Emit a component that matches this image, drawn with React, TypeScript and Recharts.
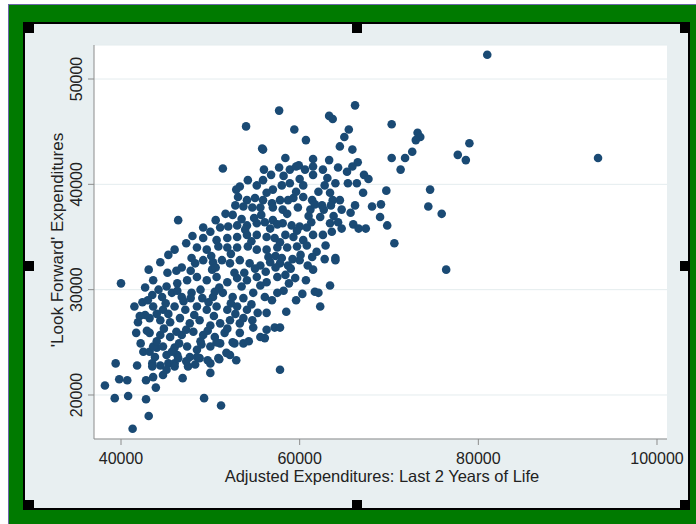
import { CartesianGrid, Label, Scatter, ScatterChart, XAxis, YAxis } from 'recharts'

// x = adjusted expenditures over the last 2 years of life, y = 'look forward' expenditures
const X_TICKS = [40000, 60000, 80000, 100000]
const Y_TICKS = [20000, 30000, 40000, 50000]

const lowerTail: [number, number][] = [
  [38200, 20900], [39400, 23000], [39800, 21500], [40700, 21400], [39300, 19700],
  [40800, 19900], [41300, 16800], [41800, 22800], [42800, 19600], [43100, 18000],
  [43900, 20700], [42800, 21400], [43600, 21700], [44700, 21900], [44400, 22800],
  [43500, 23000], [42200, 24900], [42500, 24100], [43200, 24100], [44000, 24500],
  [44700, 24600], [45300, 23000], [46000, 23000], [46300, 23800], [46900, 21600],
  [48500, 23600], [49300, 19700], [50000, 22100], [50000, 23000], [51000, 23400],
  [51200, 19000], [52900, 23300], [53700, 24900], [52700, 24900], [56100, 25400],
  [57800, 22400], [40000, 30600], [41500, 28400], [43100, 31900], [43500, 22700],
  [45100, 22400], [46000, 22700], [47500, 22700], [43800, 23600], [45100, 23800],
  [46400, 23500], [47700, 23600], [48800, 23500], [49700, 23300], [50900, 23500],
]

const core: [number, number][] = [
  [55900, 43300], [58400, 42500], [59900, 41800], [61500, 42400], [61500, 41700],
  [61500, 40900], [51400, 41500], [56000, 41400], [55200, 39900], [57000, 39500],
  [58000, 39900], [58900, 40100], [60400, 39900], [62100, 39300], [63400, 39200],
  [64500, 38500], [64700, 37600], [53100, 38800], [54100, 38500], [55000, 38700],
  [55900, 38500], [56900, 38200], [57800, 38500], [58700, 38500], [59300, 38700],
  [60400, 38800], [61400, 38500], [62500, 38000], [63700, 38500], [52800, 38000],
  [53700, 37900], [54700, 37800], [55600, 37800], [57000, 37800], [58100, 37600],
  [59800, 37800], [61200, 37600], [52500, 37100], [46400, 36600], [49200, 35900],
  [50000, 35500], [51100, 35900], [52000, 36000], [53000, 36100], [54100, 36100],
  [55200, 36300], [56100, 36400], [57000, 36600], [58100, 36300], [59100, 36100],
  [60000, 36000], [60800, 35900], [62300, 36900], [63400, 36300], [63600, 35500],
  [62600, 35200], [49200, 34900], [50700, 34700], [51900, 34900], [53000, 35000],
  [54100, 35200], [55200, 35200], [56300, 35000], [57200, 34900], [58400, 35200],
  [59300, 35000], [60400, 34700], [61500, 35200], [46000, 33800], [48500, 34000],
  [49600, 33800], [50900, 34100], [51900, 34000], [53000, 34000], [54200, 34100],
  [55200, 33800], [56300, 33800], [57500, 34000], [58600, 34000], [59700, 34100],
  [60800, 34200], [61900, 33600], [64000, 33000], [46800, 32100], [47900, 33000],
  [49200, 32800], [50300, 32600], [51300, 32800], [52200, 32500], [53300, 32800],
  [54400, 32500], [55600, 32300], [56700, 32600], [57800, 32500], [58700, 32300],
  [60000, 32800], [60900, 32300], [61500, 31900], [43600, 30900], [45100, 30300],
  [46300, 30600], [47400, 30900], [48500, 31200], [49600, 30900], [50700, 31200],
  [51900, 30700], [53000, 31100], [54100, 30900], [55200, 31200], [56300, 30700],
  [57500, 31200], [58400, 31400], [59500, 31100], [63400, 30400], [62100, 29700],
  [62300, 28400], [43500, 29500], [44600, 29300], [45700, 29700], [46800, 29300],
  [47900, 29700], [49100, 29200], [50300, 29300], [51400, 29700], [52500, 29300],
  [53700, 29200], [54800, 29700], [56100, 29300], [57500, 29700], [43600, 28400],
  [44700, 28100], [46000, 28400], [47200, 28100], [48500, 28400], [49600, 28100],
  [50700, 28400], [51900, 28100], [53000, 28400], [54100, 28100], [55300, 27800],
  [56300, 27800], [53700, 27300], [43200, 27300], [44400, 27100], [45500, 26900],
  [46600, 27300], [47700, 26800], [48800, 27100], [50000, 26600], [51100, 26800],
  [52200, 27100], [53300, 26800], [54800, 26400], [56300, 26200], [57200, 26400],
  [57800, 26400], [43200, 25900], [44400, 25700], [45500, 25500], [46800, 25700],
  [48100, 26000], [49200, 25700], [50500, 25500], [51600, 25900], [53300, 25900],
  [43600, 24600], [46000, 24500], [47400, 24600], [48500, 24300], [50000, 24600],
  [51100, 24900], [52500, 25000], [41900, 26900], [41700, 25900], [42700, 27600],
  [42700, 30200], [42400, 28800], [44400, 32600], [45300, 33300], [47300, 34400],
  [46200, 31800], [59600, 29000], [58500, 27900], [58200, 29900], [53300, 39800],
  [54200, 40400], [52900, 39500], [56800, 40900], [57700, 41600], [60600, 41400],
  [58900, 41400],
]

// overlapping dots that thicken the middle of the cloud
const coreFill: [number, number][] = [
  [47800, 31800], [50200, 31900], [52700, 31600], [55000, 32000], [57300, 32100],
  [48900, 30000], [51000, 30200], [53500, 30300], [55600, 30400], [47000, 28900],
  [49800, 28800], [52300, 28700], [54600, 28600], [45300, 27700], [48200, 27600],
  [50400, 27500], [52800, 27700], [44800, 26300], [47300, 26200], [49700, 26100],
  [51900, 26300], [46500, 24900], [48900, 25100], [50700, 25000], [53900, 35700],
  [56700, 35800], [59700, 35600], [55700, 37100], [58600, 37200], [61000, 37000],
  [54600, 34600], [57800, 34500], [60100, 33300], [52300, 33400], [50100, 33200],
  [48300, 32500], [57300, 33200], [62800, 32900], [59200, 32900], [61300, 36400],
  [56300, 39200], [59600, 39300], [61700, 38100], [53500, 36700], [50600, 36600],
  [48000, 35100], [45200, 31600], [44200, 30000], [43000, 29000], [42100, 27500],
  [44000, 27700], [46200, 26000], [49000, 24800], [45700, 24100], [47300, 23200],
  [51800, 24000], [54700, 27100], [56900, 29000], [58800, 30600], [60700, 30900],
  [60300, 29600], [61400, 33100], [62700, 37600], [63800, 37000], [57500, 36200],
  [54900, 36800], [51700, 37200], [55900, 40400], [58200, 40800], [60000, 40500],
  [62800, 39900], [50600, 32100], [46300, 29900], [47800, 29200], [45000, 28700],
  [44000, 25100], [42900, 26100], [48300, 22900], [52200, 23800], [55600, 25500],
  [54300, 25100], [50500, 29800], [53800, 31600], [56200, 31700], [59000, 32000],
  [56500, 33100], [58000, 33000],
]

const upperArm: [number, number][] = [
  [57700, 47000], [59400, 45200], [54000, 45500], [55800, 43400], [60700, 44200],
  [59600, 41700], [63300, 46500], [63700, 46200], [66200, 47500], [65500, 45200],
  [65000, 44500], [64500, 43600], [65900, 43300], [66500, 42100], [65900, 41700],
  [67200, 40900], [67700, 40500], [66400, 40100], [67100, 39200], [66200, 38000],
  [65700, 37300], [66000, 36200], [66600, 35800], [67400, 35800], [64000, 32800],
  [61700, 29800], [65300, 41200], [65400, 40100], [62600, 41400], [63100, 40600],
  [64000, 40100], [64300, 41600], [63300, 42300], [63500, 38000], [64300, 36400],
  [64700, 35800], [62900, 34200], [68100, 37900], [69100, 38100], [69000, 36900],
  [69800, 36100], [70600, 34400], [69700, 39400], [70300, 42500], [70300, 45700],
  [71300, 41400], [71800, 42500], [72600, 43100], [73200, 44900], [73500, 44500],
  [73000, 44200], [74600, 39500], [74400, 37900], [75900, 37200], [76400, 31900],
  [77700, 42800], [78600, 42300], [79000, 43900],
]

const outliers: [number, number][] = [
  [81000, 52300], [93400, 42500],
]

const points = [...lowerTail, ...core, ...coreFill, ...upperArm, ...outliers].map(([x, y]) => ({ x, y }))

const FONT = '"Liberation Sans", Arial, sans-serif'
const TEXT = '#222222'
const AXIS = '#8c8c8c'
const DOT = '#1a4a74'

function XTick({ x, payload }: any) {
  return (
    <text x={x} y={464} textAnchor="middle" fontFamily={FONT} fontSize={16} fill={TEXT}>
      {payload.value}
    </text>
  )
}

function YTick({ y, payload }: any) {
  return (
    <text
      x={82}
      y={y}
      transform={`rotate(-90, 82, ${y})`}
      textAnchor="middle"
      fontFamily={FONT}
      fontSize={16}
      fill={TEXT}
    >
      {payload.value}
    </text>
  )
}

function Dot({ cx, cy }: any) {
  return <circle cx={cx} cy={cy} r={4.3} fill={DOT} />
}

// black sizing handles round the graph window
const HANDLES = [
  [24, 23], [352, 23], [680, 23],
  [24, 261], [680, 261],
  [24, 500], [352, 500], [680, 500],
]

export default function App() {
  return (
    <div style={{ position: 'absolute', left: 0, top: 0, width: 696, height: 524, background: '#ffffff' }}>
      <div
        style={{
          position: 'absolute', left: 8, top: 4, width: 688, height: 520,
          background: '#007a00', borderTop: '1px solid #6d66a8', borderLeft: '1px solid #6d66a8',
          boxSizing: 'border-box',
        }}
      />
      <div
        style={{
          position: 'absolute', left: 23, top: 22, width: 667, height: 488,
          background: '#e8eff1', border: '2px solid #000', boxSizing: 'border-box',
        }}
      />
      {HANDLES.map(([l, t], i) => (
        <div key={i} style={{ position: 'absolute', left: l, top: t, width: 10, height: 10, background: '#000' }} />
      ))}
      <div style={{ position: 'absolute', left: 0, top: 0 }}>
        <ScatterChart width={696} height={524} margin={{ top: 45, right: 29, bottom: 45, left: 34 }}>
          <CartesianGrid vertical={false} stroke="#e4ecee" fill="#ffffff" />
          <XAxis
            type="number"
            dataKey="x"
            domain={[36977, 101120]}
            ticks={X_TICKS}
            height={40}
            tick={<XTick />}
            tickSize={6}
            axisLine={{ stroke: AXIS }}
            tickLine={{ stroke: AXIS }}
            allowDataOverflow
          >
            <Label
              content={() => (
                <text x={382} y={482} textAnchor="middle" fontFamily={FONT} fontSize={16.5} fill={TEXT}>
                  Adjusted Expenditures: Last 2 Years of Life
                </text>
              )}
            />
          </XAxis>
          <YAxis
            type="number"
            dataKey="y"
            domain={[15822, 53229]}
            ticks={Y_TICKS}
            width={60}
            tick={<YTick />}
            tickSize={6}
            axisLine={{ stroke: AXIS }}
            tickLine={{ stroke: AXIS }}
            allowDataOverflow
          >
            <Label
              content={() => (
                <text
                  x={63}
                  y={240}
                  transform="rotate(-90, 63, 240)"
                  textAnchor="middle"
                  fontFamily={FONT}
                  fontSize={17}
                  fill={TEXT}
                >
                  'Look Forward' Expenditures
                </text>
              )}
            />
          </YAxis>
          <Scatter data={points} shape={<Dot />} isAnimationActive={false} />
        </ScatterChart>
      </div>
    </div>
  )
}
